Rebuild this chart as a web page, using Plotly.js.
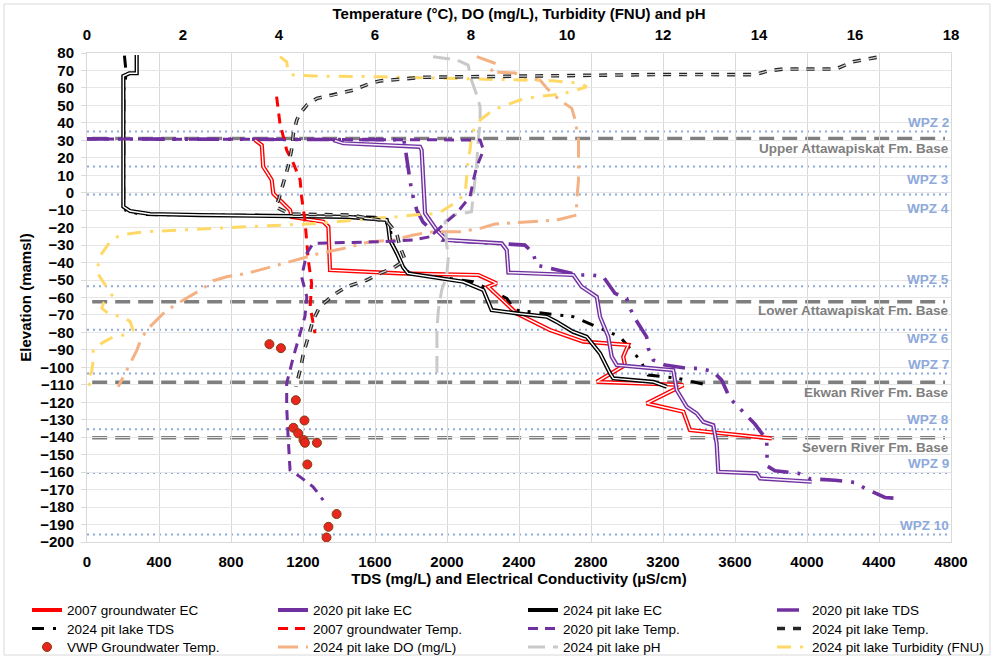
<!DOCTYPE html>
<html><head><meta charset="utf-8">
<script src="https://cdn.plot.ly/plotly-3.0.1.min.js"></script>
<style>html,body{margin:0;padding:0;background:#fff}#chart{width:994px;height:656px}</style>
</head><body><div id="chart"></div>
<script>
// ---- Data (x value, elevation in mamsl) ----
var gw2007EC_x = [933, 971, 979, 1026, 1035, 1072, 1128, 1137, 1313, 1341, 1350, 1739, 2174, 2276, 2229, 2387, 2572, 2757, 3007, 2979, 2989, 2832, 3313, 3109, 3313, 3350, 3804];
var gw2007EC_z = [30.2, 27.3, 14.9, 7.3, -0.4, -4.2, -9.9, -13.8, -16.6, -19.5, -44.3, -46.2, -47.1, -51.9, -53.8, -69.1, -78.6, -85.3, -87.2, -93.9, -98.7, -108.3, -110.1, -120.6, -125.4, -135.9, -140.7];

var pit2020EC_x = [1368, 1424, 1850, 1859, 1878, 1943, 1998, 2304, 2332, 2341, 2702, 2748, 2832, 2850, 2896, 2915, 2943, 3257, 3276, 3332, 3387, 3424, 3479, 3498, 3507, 3721, 3739, 4026];
var pit2020EC_z = [30.2, 28.3, 26.3, 24.4, -11.8, -21.4, -27.1, -29, -32.8, -45.7, -47.1, -53.8, -59.6, -71, -82.5, -93.9, -98.7, -101.6, -113, -122.6, -126.4, -131.2, -133.1, -143.5, -159.8, -160.7, -163.6, -165.5];

var pit2024EC_x = [276, 276, 235, 202, 202, 239, 350, 628, 1443, 1665, 1674, 1683, 1721, 1756, 1783, 2091, 2202, 2248, 2387, 2554, 2609, 2700, 2776, 2850, 2906, 2924, 3146, 3221];
var pit2024EC_z = [78.9, 68.4, 68.4, 66.8, -8, -10.5, -12.2, -12.8, -13.8, -15.6, -19.5, -27.1, -34.5, -42.6, -46.2, -51, -55.7, -67.2, -69.1, -71, -73.9, -79.6, -82.5, -92, -103.5, -106.3, -108.3, -111.1];

var pit2020TDS_x = [0, 1760, 1767, 1783, 1794, 1804, 1832, 1867, 1971, 2433, 2478, 2498, 2728, 2804, 2868, 2933, 2998, 3017, 3044, 3109, 3118, 3146, 3211, 3341, 3406, 3479, 3526, 3572, 3618, 3665, 3711, 3776, 3776, 3779, 3822, 3952, 4017, 4082, 4156, 4267, 4322, 4433, 4498];
var pit2020TDS_z = [30.8, 30.4, 26.2, 14.7, 8.4, 0.6, -9.9, -16.8, -27.1, -30, -34.5, -41.4, -47.1, -47.1, -48.1, -57.6, -60.5, -66.2, -71.9, -82.5, -89.1, -95.8, -98.7, -100.6, -100.6, -102.5, -107.3, -117.8, -122.6, -127.3, -132.5, -141.6, -148.9, -156.5, -159.2, -160.7, -163.8, -164.2, -164.6, -165.9, -169.3, -174.5, -175];

var pit2024TDS_x = [208, 218, 205, 204, 215, 300, 1000, 1600, 1680, 1700, 1740, 1790, 2146, 2332, 2378, 2702, 2961, 3072, 3118, 3285, 3443];
var pit2024TDS_z = [78.5, 68, 60, -6, -10, -12.5, -13, -14, -18, -30, -40, -46, -51, -60.5, -67.2, -71, -82.5, -95.8, -104.4, -106.3, -110.1];

var gw2007Temp_x = [3.95, 4.02, 4.16, 4.30, 4.44, 4.47, 4.54, 4.58, 4.61, 4.68, 4.65, 4.75];
var gw2007Temp_z = [55, 39.7, 24.4, 16.8, 7.3, -2.3, -15.6, -27.1, -38.6, -51.9, -65.3, -80.5];

var pit2020Temp_x = [0, 8.19, 8.26, 8.12, 8.05, 7.98, 7.70, 7.49, 7.15, 6.80, 6.10, 4.71, 4.58, 4.47, 4.58, 4.54, 4.44, 4.30, 4.16, 4.16, 4.19, 4.23, 4.44, 4.71, 4.92];
var pit2020Temp_z = [30.8, 30.2, 24.4, 14.9, 7.3, -2.3, -11.8, -16.6, -25.2, -27.1, -28.1, -29, -34.7, -48.1, -59.6, -71, -80.5, -93.9, -109.2, -122.6, -139.8, -158.8, -162.7, -168.4, -176];

var pit2024Temp_x = [16.45, 15.96, 15.6, 14.5, 14.2, 13.9, 12.0, 9.23, 7.0, 6.1, 5.9, 5.55, 5.13, 4.79, 4.58, 4.44, 4.37, 4.3, 4.26, 4.19, 4.09, 3.99, 3.92, 4.23, 5.48, 6.24, 6.45, 6.52, 6.63, 6.38, 6.1, 5.83, 5.41, 5.13, 4.85, 4.71, 4.61, 4.51, 4.44, 4.35];
var pit2024Temp_z = [77.5, 75, 70.8, 70.8, 69.8, 67.6, 67.7, 67, 66.1, 64, 62.6, 58.8, 55.9, 54, 50.2, 45.5, 41.6, 34, 24.4, 14.9, 5.4, -4.2, -8, -12.2, -12.8, -16.2, -23.1, -30.9, -38.6, -43.1, -46.2, -50, -53.8, -58.6, -65.3, -72.9, -82.5, -92, -101.6, -111.1];

var vwpTemp_x = [3.80, 4.04, 4.35, 4.53, 4.30, 4.40, 4.51, 4.54, 4.79, 4.59, 5.20, 5.03, 4.99];
var vwpTemp_z = [-86.7, -89, -118.8, -130.4, -134.6, -137.8, -141.6, -143.2, -143.2, -155.6, -184, -191.3, -197.4];

var do2024_x = [8.12, 8.54, 8.40, 8.92, 9.02, 9.44, 9.58, 9.85, 10.1, 10.17, 10.24, 10.24, 10.24, 10.2, 10.2, 9.79, 9.23, 8.5, 8.19, 7.77, 7.21, 6.8, 6.38, 5.9, 5.34, 4.85, 4.16, 3.33, 2.91, 2.63, 2.42, 2.08, 1.83, 1.59, 1.31, 1.14, 1.04, 0.9, 0.76, 0.65];
var do2024_z = [77.9, 73.7, 69.1, 68.5, 66.3, 64.5, 59.8, 53.1, 48.3, 41.6, 30.2, 14.9, 7.3, -5.2, -12.8, -15.6, -16.6, -17.9, -20.4, -22.3, -22.3, -24.2, -27.1, -28.1, -31.9, -34.7, -40, -46.2, -48.1, -50.4, -54.8, -60.5, -64.3, -69.1, -76.8, -82.8, -90.1, -97.7, -105.4, -111.1];

var ph2024_x = [7.21, 7.7, 7.94, 7.98, 8.01, 8.12, 8.19, 8.19, 8.15, 8.12, 8.08, 8.05, 8.01, 7.63, 7.46, 7.49, 7.53, 7.49, 7.39, 7.32, 7.29, 7.29, 7.29];
var ph2024_z = [77.9, 76, 73.1, 68.4, 64.5, 55.9, 49.2, 39.7, 30.2, 16.8, 7.3, -2.3, -10.9, -12.8, -16.6, -29, -36.7, -48.1, -55.7, -67.2, -78.6, -88.2, -108.3];

var turb2024_x = [4.02, 4.16, 4.19, 4.3, 4.71, 6.1, 7.49, 8.88, 9.71, 10.27, 10.41, 10.1, 9.71, 9.37, 9.02, 8.46, 8.19, 8.08, 8.01, 7.98, 7.94, 7.88, 7.7, 7.49, 7.32, 6.8, 6.45, 5.96, 4.85, 3.33, 2.63, 1.94, 1.24, 0.69, 0.48, 0.31, 0.24, 0.2, 0.34, 0.44, 0.52, 0.34, 0.31, 0.48, 0.76, 0.9, 0.96, 0.76, 0.55, 0.31, 0.13, 0.13, 0.1, 0, 0.1];
var turb2024_z = [77.9, 75, 69.3, 67.4, 66.8, 66.4, 65.5, 64.5, 64.1, 62.6, 60.7, 57.8, 55.9, 55, 53.1, 47.4, 41.6, 37.8, 32.1, 24.4, 18.7, -0.4, -5.2, -8.9, -11.8, -12.8, -13.8, -14.7, -17.5, -19.5, -20.4, -21.4, -22.3, -24.2, -28.1, -34.7, -40.4, -45.3, -51, -54.8, -58.6, -63.4, -66.2, -70, -71, -73.9, -78.6, -81.5, -82.5, -86.1, -90.1, -95.8, -102.1, -108.3, -111.1];

// Reference elevations (water-producing zones and formation bases)
var refLabels = ['WPZ 2', 'Upper Attawapiskat Fm. Base', 'WPZ 3', 'WPZ 4', 'WPZ 5', 'Lower Attawapiskat Fm. Base', 'WPZ 6', 'WPZ 7', 'Ekwan River Fm. Base', 'WPZ 8', 'Severn River Fm. Base', 'WPZ 9', 'WPZ 10'];
var refElev = [35, 31, 15, -1, -53.5, -62.5, -78.5, -103.5, -108.5, -135.5, -140.3, -160.5, -195.7];
var refKind = ['wpz', 'fm', 'wpz', 'wpz', 'wpz', 'fm', 'wpz', 'wpz', 'fm', 'wpz', 'fm', 'wpz', 'wpz'];

var xTitle = 'TDS (mg/L) and Electrical Conductivity (µS/cm)';
var x2Title = 'Temperature (°C), DO (mg/L), Turbidity (FNU) and pH';
var yTitle = 'Elevation (mamsl)';

// ---- Styling / layout ----
var FONT = 'Liberation Sans, Arial, sans-serif';
var labelShift = [9, -10, -13, -14, 7, -9, -9, 8.5, -10.5, 10, -9.5, 9.5, 8.5];
var legendColX = [27, 273, 523, 772];      // px, left of each legend column
var legendRowY = [610, 628.5, 647];        // px, centre of each legend row

function legId(k) { return k === 0 ? 'legend' : 'legend' + (k + 1); }

function line(name, x, z, axis, color, width, dash, slot) {
  return {type: 'scatter', mode: 'lines', name: name, x: x, y: z, xaxis: axis, yaxis: 'y',
    line: {color: color, width: width, dash: dash || 'solid'},
    legend: slot >= 0 ? legId(slot) : 'legend', showlegend: slot >= 0, hoverinfo: 'skip'};
}

var traces = [];
traces.push(line('2024 pit lake DO (mg/L)', do2024_x, do2024_z, 'x2', '#F4B183', 3, '20px,8px,3px,8px', 9));
traces.push(line('2024 pit lake pH', ph2024_x, ph2024_z, 'x2', '#C9C9C9', 3, '17px,8px', 10));
traces.push(line('2024 pit lake Turbidity (FNU)', turb2024_x, turb2024_z, 'x2', '#FFD966', 3, '14px,9px,3px,9px', 11));
traces.push(line('2007 groundwater Temp.', gw2007Temp_x, gw2007Temp_z, 'x2', '#FF0000', 3, '10px,7px', 5));
traces.push(line('2020 pit lake Temp.', pit2020Temp_x, pit2020Temp_z, 'x2', '#7030A0', 3, '10px,7px', 6));
traces.push(line('2024 pit lake Temp.', pit2024Temp_x, pit2024Temp_z, 'x2', '#262626', 3.6, '8px,8px', 7));
traces.push(line('2024 pit lake Temp. inner', pit2024Temp_x, pit2024Temp_z, 'x2', '#D0D0D0', 1.2, '8px,8px', -1));
traces.push(line('2020 pit lake TDS', pit2020TDS_x, pit2020TDS_z, 'x', '#7030A0', 3.6, '22px,9px,3px,9px,3px,9px', 3));
traces.push(line('2024 pit lake TDS', pit2024TDS_x, pit2024TDS_z, 'x', '#000000', 3, '12px,9px,3px,8px,3px,9px', 4));
traces.push(line('2007 groundwater EC', gw2007EC_x, gw2007EC_z, 'x', '#FF0000', 4.2, 'solid', 0));
traces.push(line('2007 gw EC inner', gw2007EC_x, gw2007EC_z, 'x', '#FFFFFF', 1.4, 'solid', -1));
traces.push(line('2020 pit lake EC', pit2020EC_x, pit2020EC_z, 'x', '#7030A0', 4.2, 'solid', 1));
traces.push(line('2020 EC inner', pit2020EC_x, pit2020EC_z, 'x', '#F4EEFA', 1.4, 'solid', -1));
traces.push(line('2024 pit lake EC', pit2024EC_x, pit2024EC_z, 'x', '#000000', 4.2, 'solid', 2));
traces.push(line('2024 EC inner', pit2024EC_x, pit2024EC_z, 'x', '#FFFFFF', 1.4, 'solid', -1));
traces.push({type: 'scatter', mode: 'markers', name: 'VWP Groundwater Temp.', x: vwpTemp_x, y: vwpTemp_z,
  xaxis: 'x2', yaxis: 'y', marker: {color: '#E8251E', size: 9, line: {color: '#843C0C', width: 1}},
  legend: legId(8), hoverinfo: 'skip'});

var shapes = [];
var annotations = [];
for (var i = 0; i < refElev.length; i++) {
  var isFm = refKind[i] === 'fm';
  shapes.push({type: 'line', xref: 'paper', yref: 'y', layer: 'below',
    x0: isFm ? 0.006 : 0, x1: isFm ? 0.993 : 1, y0: refElev[i], y1: refElev[i],
    line: isFm ? {color: '#7F7F7F', width: 3.5, dash: '15px,8px'} : {color: '#8EA9DB', width: 2, dash: '2px,4px'}});
  annotations.push({xref: 'paper', yref: 'y', x: 0.9995, y: refElev[i], xanchor: 'right', yanchor: 'middle',
    yshift: labelShift[i], showarrow: false, text: refLabels[i],
    font: {family: FONT, size: 13.5, weight: 'bold', color: isFm ? '#7F7F7F' : '#8EA9DB'}});
}
shapes.push({type: 'rect', xref: 'paper', yref: 'paper', x0: -0.0961, x1: 1.0451, y0: -0.2311, y1: 1.1002,
  line: {color: '#D9D9D9', width: 1}, fillcolor: 'rgba(0,0,0,0)'});

var tickFont = {family: FONT, size: 15, weight: 'bold', color: '#000'};
var layout = {
  width: 994, height: 656,
  margin: {l: 87, r: 43, t: 53, b: 114, autoexpand: false},
  paper_bgcolor: '#fff', plot_bgcolor: '#fff',
  font: {family: FONT, color: '#000'},
  showlegend: true,
  xaxis: {range: [0, 4800], tick0: 0, dtick: 400, showgrid: true, gridcolor: '#D9D9D9', gridwidth: 1,
    showline: true, linecolor: '#D9D9D9', mirror: true, zeroline: false, ticks: '', ticklabelstandoff: 6,
    tickfont: tickFont, title: {text: xTitle, font: {family: FONT, size: 15, weight: 'bold'}, standoff: 2}},
  xaxis2: {range: [0, 18], tick0: 0, dtick: 2, overlaying: 'x', side: 'top', anchor: 'y', showgrid: false,
    zeroline: false, ticks: '', ticklabelstandoff: 9, tickfont: tickFont,
    title: {text: x2Title, font: {family: FONT, size: 15, weight: 'bold'}, standoff: 2}},
  yaxis: {range: [-200, 80], tick0: 80, dtick: 10, showgrid: true, gridcolor: '#E6E6E6', gridwidth: 1,
    showline: true, linecolor: '#D9D9D9', mirror: true, zeroline: false, ticks: 'outside', ticklen: 5,
    tickcolor: '#D9D9D9', ticklabelstandoff: 4, tickfont: tickFont,
    title: {text: yTitle, font: {family: FONT, size: 15, weight: 'bold'}, standoff: 4}},
  shapes: shapes, annotations: annotations
};
for (var k = 0; k < 12; k++) {
  var col = k % 4, row = Math.floor(k / 4);
  layout[legId(k)] = {orientation: 'v', x: (legendColX[col] - 87) / 864, xanchor: 'left',
    y: (542 - (legendRowY[row] - 15.3)) / 489, yanchor: 'top', bgcolor: 'rgba(0,0,0,0)',
    font: {family: FONT, size: 13.5, color: '#000'}, itemwidth: 30};
}

Plotly.newPlot('chart', traces, layout, {staticPlot: true, displayModeBar: false});
</script></body></html>
